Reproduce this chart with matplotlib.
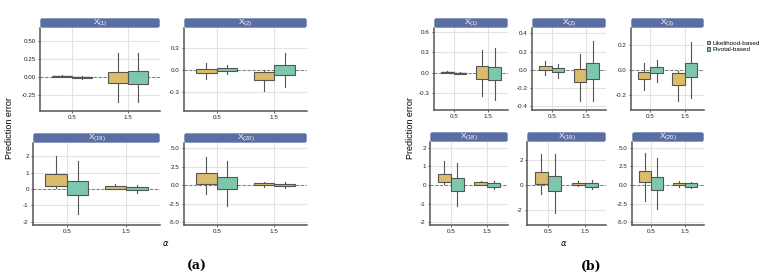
import numpy as np
import matplotlib
matplotlib.use('Agg')
import matplotlib.pyplot as plt
from matplotlib.patches import FancyBboxPatch, Patch

plt.rcParams['font.family'] = ['Liberation Sans', 'DejaVu Sans']
plt.rcParams['axes.unicode_minus'] = False

W, H = 778, 279

alphas = ['0.5', '1.5']
methods = ['Likelihood-based', 'Pivotal-based']
colors = ['#d9bc6c', '#7dc8ab']

# values per facet, order: [lik 0.5, piv 0.5, lik 1.5, piv 1.5]
a_facets = ['(1)', '(2)', '(19)', '(20)']
a_lo = [[-0.005, -0.025, -0.35, -0.35],
        [-0.12, -0.05, -0.29, -0.23],
        [0.05, -1.55, -0.02, -0.25],
        [-1.2, -2.8, -0.27, -0.45]]
a_q1 = [[0.0, -0.015, -0.08, -0.09],
        [-0.04, -0.02, -0.14, -0.064],
        [0.16, -0.36, 0.02, -0.08],
        [0.18, -0.58, -0.05, -0.18]]
a_med = [[0.01, -0.005, 0.0, 0.0],
         [-0.015, 0.0, -0.086, 0.0],
         [0.46, 0.08, 0.1, 0.02],
         [0.9, 0.22, 0.1, 0.0]]
a_q3 = [[0.02, 0.005, 0.07, 0.08],
        [0.01, 0.02, -0.027, 0.06],
        [0.93, 0.48, 0.16, 0.1],
        [1.67, 1.04, 0.22, 0.13]]
a_hi = [[0.025, 0.01, 0.33, 0.33],
        [0.09, 0.06, 0.0, 0.23],
        [1.98, 1.68, 0.28, 0.22],
        [3.78, 3.24, 0.45, 0.45]]

b_facets = ['(1)', '(2)', '(3)', '(18)', '(19)', '(20)']
b_lo = [[-0.01, -0.02, -0.34, -0.4],
        [-0.055, -0.085, -0.34, -0.34],
        [-0.16, -0.093, -0.245, -0.227],
        [0.05, -1.14, 0.0, -0.22],
        [-0.7, -2.2, -0.1, -0.32],
        [-2.16, -3.24, -0.22, -0.45]]
b_q1 = [[0.0, -0.012, -0.09, -0.11],
        [0.0, -0.025, -0.13, -0.1],
        [-0.075, -0.027, -0.12, -0.059],
        [0.14, -0.3, 0.02, -0.09],
        [0.1, -0.48, -0.03, -0.13],
        [0.36, -0.72, -0.05, -0.27]]
b_med = [[0.008, -0.005, 0.02, 0.0],
         [0.025, 0.0, -0.055, -0.01],
         [-0.048, 0.0, -0.067, 0.0],
         [0.36, 0.0, 0.08, 0.0],
         [0.58, 0.13, 0.08, 0.0],
         [1.0, 0.22, 0.1, 0.0]]
b_q3 = [[0.015, 0.003, 0.094, 0.084],
        [0.044, 0.018, 0.01, 0.073],
        [-0.02, 0.027, -0.027, 0.059],
        [0.6, 0.36, 0.14, 0.09],
        [1.07, 0.72, 0.2, 0.16],
        [1.9, 1.04, 0.27, 0.22]]
b_hi = [[0.025, 0.01, 0.33, 0.37],
        [0.1, 0.07, 0.17, 0.32],
        [0.053, 0.08, -0.005, 0.22],
        [1.29, 1.2, 0.2, 0.2],
        [2.45, 2.45, 0.35, 0.37],
        [4.3, 3.7, 0.6, 0.45]]

# layout: pixel box (x0, x1, y0, y1), ylim, yticks, tick labels
a_layout = [
    ((40, 160, 28, 111), (-0.47, 0.68), [-0.25, 0, 0.25, 0.5], ['-0.25', '0.00', '0.25', '0.50']),
    ((184, 307, 28, 111), (-0.56, 0.57), [-0.3, 0, 0.3], ['-0.3', '0.0', '0.3']),
    ((33, 160, 143, 225), (-2.2, 2.8), [-2, -1, 0, 1, 2], ['-2', '-1', '0', '1', '2']),
    ((184, 307, 143, 225), (-5.4, 5.7), [-5, -2.5, 0, 2.5, 5], ['-5.0', '-2.5', '0.0', '2.5', '5.0']),
]
b_layout = [
    ((434, 508, 28, 110), (-0.55, 0.66), [-0.3, 0, 0.3, 0.6], ['-0.3', '0.0', '0.3', '0.6']),
    ((532, 606, 28, 110), (-0.44, 0.46), [-0.4, -0.2, 0, 0.2, 0.4], ['-0.4', '-0.2', '0.0', '0.2', '0.4']),
    ((631, 704, 28, 110), (-0.32, 0.336), [-0.2, 0, 0.2], ['-0.2', '0.0', '0.2']),
    ((430, 508, 142, 225), (-2.14, 2.3), [-2, -1, 0, 1, 2], ['-2', '-1', '0', '1', '2']),
    ((527, 606, 142, 225), (-3.2, 3.44), [-2, 0, 2], ['-2', '0', '2']),
    ((632, 704, 142, 225), (-5.4, 5.8), [-5, -2.5, 0, 2.5, 5], ['-5.0', '-2.5', '0.0', '2.5', '5.0']),
]


def rect(x0, x1, y0, y1):
    return [x0 / W, 1 - y1 / H, (x1 - x0) / W, (y1 - y0) / H]


def draw_facet(fig, box, ylim, yticks, ylabels, name, lo, q1, med, q3, hi):
    x0, x1, y0, y1 = box
    ax = fig.add_axes(rect(x0, x1, y0, y1))
    ax.set_xlim(-0.57, 1.57)
    ax.set_ylim(*ylim)
    ax.set_axisbelow(True)
    ax.grid(True, color='#e3e3e3', linewidth=0.8)
    ax.axhline(0, color='#777777', linestyle=(0, (3, 2)), linewidth=0.7, zorder=1)

    for k in range(4):
        pos = (k // 2) + (-0.18 if k % 2 == 0 else 0.18)
        stats = [dict(whislo=lo[k], q1=q1[k], med=med[k], q3=q3[k], whishi=hi[k])]
        bp = ax.bxp(stats, positions=[pos], widths=0.36, patch_artist=True,
                    showcaps=False, showfliers=False, manage_ticks=False,
                    boxprops=dict(facecolor=colors[k % 2], edgecolor='#555555', linewidth=0.8),
                    medianprops=dict(color='#333333', linewidth=0.9),
                    whiskerprops=dict(color='#555555', linewidth=0.8))
        for b in bp['boxes']:
            b.set_zorder(3)

    ax.set_xticks([0, 1])
    ax.set_xticklabels(alphas)
    ax.set_yticks(yticks)
    ax.set_yticklabels(ylabels)
    ax.tick_params(labelsize=4.5, length=1.5, width=0.5, pad=1.5, colors='#222222')
    for s in ['top', 'right']:
        ax.spines[s].set_visible(False)
    for s in ['left', 'bottom']:
        ax.spines[s].set_color('#555555')
        ax.spines[s].set_linewidth(1.1)

    # facet strip
    sh = 10
    sax = fig.add_axes(rect(x0, x1, y0 - sh, y0))
    sax.set_xlim(0, x1 - x0)
    sax.set_ylim(0, sh)
    sax.axis('off')
    sax.add_patch(FancyBboxPatch((0.3, 0.3), x1 - x0 - 0.6, sh - 0.6,
                                 boxstyle='round,pad=0,rounding_size=2',
                                 facecolor='#5a6ea3', edgecolor='none'))
    sax.text((x1 - x0) / 2, sh / 2, r'$\mathregular{X_{' + name + '}}$',
             color='white', ha='center', va='center', fontsize=6)
    return ax


fig = plt.figure(figsize=(W / 100, H / 100), dpi=100)

for i, (box, ylim, yt, yl) in enumerate(a_layout):
    draw_facet(fig, box, ylim, yt, yl, a_facets[i], a_lo[i], a_q1[i], a_med[i], a_q3[i], a_hi[i])
for i, (box, ylim, yt, yl) in enumerate(b_layout):
    draw_facet(fig, box, ylim, yt, yl, b_facets[i], b_lo[i], b_q1[i], b_med[i], b_q3[i], b_hi[i])

fig.text(10 / W, 1 - 128 / H, 'Prediction error', rotation=90, fontsize=6.5, ha='center', va='center')
fig.text(411 / W, 1 - 128 / H, 'Prediction error', rotation=90, fontsize=6.5, ha='center', va='center')
fig.text(166 / W, 1 - 244 / H, r'$\alpha$', fontsize=6, ha='center', va='center')
fig.text(564 / W, 1 - 243 / H, r'$\alpha$', fontsize=6, ha='center', va='center')
fig.text(197 / W, 1 - 266 / H, '(a)', fontsize=9, fontweight='bold', family='DejaVu Serif',
         ha='center', va='center')
fig.text(591 / W, 1 - 266 / H, '(b)', fontsize=9, fontweight='bold', family='DejaVu Serif',
         ha='center', va='center')

handles = [Patch(facecolor=colors[j], edgecolor='#444444', linewidth=0.6, label=methods[j])
           for j in range(2)]
fig.legend(handles=handles, loc='upper left', bbox_to_anchor=(704 / W, 1 - 38 / H),
           frameon=False, fontsize=4.5, handlelength=0.6, handleheight=0.6,
           handletextpad=0.4, labelspacing=0.15, borderaxespad=0)

fig.savefig('out.png', dpi=100)
